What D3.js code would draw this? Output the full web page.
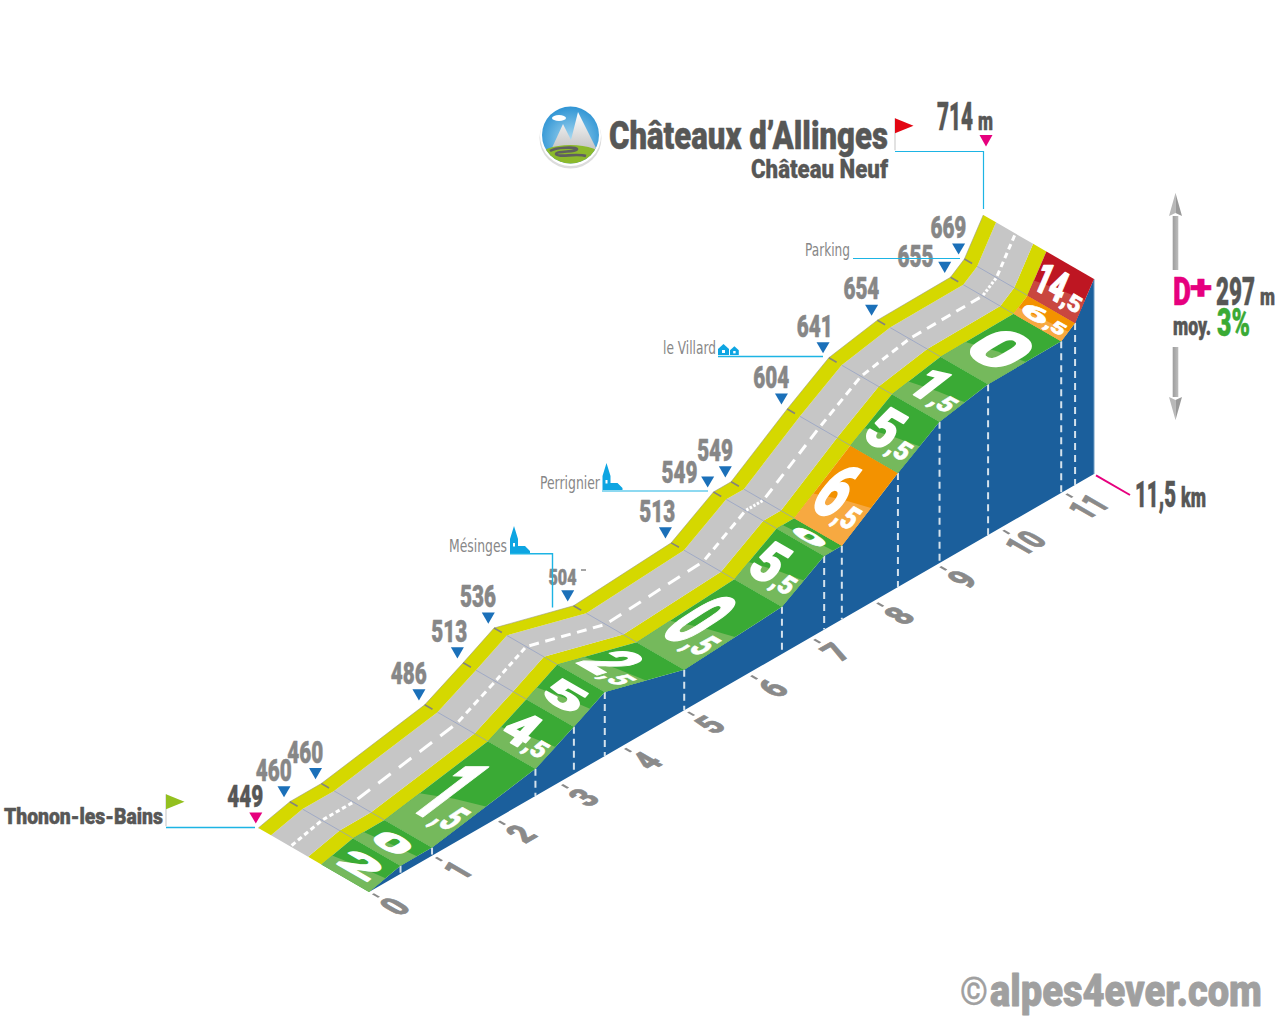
<!DOCTYPE html>
<html><head><meta charset="utf-8">
<style>html,body{margin:0;padding:0;background:#fff}svg{display:block}</style>
<script src="https://cdn.jsdelivr.net/npm/d3@7"></script>
</head><body><svg id="c" width="1280" height="1024"></svg>
<script>
// ---- data ----
const kmPoints   = [0,0.5,1,2.64,3.25,3.74,5,6.55,7.22,7.5,8.39,9.05,9.82,10.98,11.2,11.5];
const elevations = [449,460,460,486,513,536,504,513,549,549,604,641,654,655,669,714];
const slopes     = ["2","0","1,5","4,5","5","2,5","0,5","5,5","0","6,5","5,5","1,5","0","6,5","14,5"];
const kmTicks    = [0,1,2,3,4,5,6,7,8,9,10,11];
const totalKm    = 11.5;

// ---- layout ----
const HEAVY='Roboto,"Liberation Sans Narrow",sans-serif';
const NARROW='"Liberation Sans Narrow","DejaVu Sans Condensed",sans-serif';
const DARK='#575756', GREY='#878787', CYAN='#1db4e4', MAGENTA='#e6007e', BLUE='#1b5f9c', TRI='#1b70b9';
const svg=d3.select('#c');
const sx=d3.scaleLinear().domain([0,totalKm]).range([369,1094]);
const sy=d3.scaleLinear().domain([0,totalKm]).range([892,474]);
const sh=d3.scaleLinear().domain([449,714]).range([0,195]);
const DEPTH=[-110.7,-64];
const D_PANEL=.43,D_YEL=.55,D_ROAD=.885;
const pt=(i,d=0)=>[sx(kmPoints[i])+DEPTH[0]*d, sy(kmPoints[i])-sh(elevations[i])+DEPTH[1]*d];
const lerp=(a,b,t)=>[a[0]+(b[0]-a[0])*t,a[1]+(b[1]-a[1])*t];
const idx=d3.range(kmPoints.length);
const line=d3.line();
const slopeFill=v=>{const n=parseFloat(v.replace(',','.'));return n>10?['#be1622','#c9473f']:n>=6?['#f39200','#f7a941']:['#3aaa35','#75b95c'];};

// text stretched to an exact width with a real transform, so its box stays true
function txt(p,s,x,y,o={}){
  const t=p.append('text').text(s)
   .attr('font-family',o.family||HEAVY).attr('font-weight',o.weight||900)
   .attr('font-size',o.size||30).attr('fill',o.fill||DARK)
   .attr('text-anchor',o.anchor||'start');
  const st=o.stroke===undefined?.5:o.stroke;
  if(st) t.attr('stroke',o.fill||DARK).attr('stroke-width',st).attr('stroke-linejoin','round');
  const k=o.width?o.width/t.node().getComputedTextLength():1;
  t.attr('transform',`translate(${x},${y}) scale(${k},1)`);
  return t;
}
const poly=(p,pts,fill)=>p.append('path').attr('d',line(pts)+'Z').attr('fill',fill);
const strokeLine=(p,pts,c,w)=>p.append('path').attr('d',line(pts)).attr('fill','none').attr('stroke',c).attr('stroke-width',w);

// ---- wall ----
const wall=svg.append('g');
poly(wall,[...idx.map(i=>pt(i)),[sx(totalKm),sy(totalKm)],[sx(0),sy(0)]],BLUE);
idx.slice(1,-1).forEach(i=>{
  strokeLine(wall,[pt(i),[sx(kmPoints[i]),sy(kmPoints[i])]],'#d5e2ec',2).attr('stroke-dasharray','7 5');
});
strokeLine(wall,[pt(15),[sx(totalKm),sy(totalKm)]],'#6f9cc4',1);

// ---- road surface bands ----
const band=(d1,d2,fill)=>poly(svg,[...idx.map(i=>pt(i,d1)),...idx.slice().reverse().map(i=>pt(i,d2))],fill);
band(D_PANEL,D_YEL,'#d5d800');
band(D_YEL,D_ROAD,'#c6c6c6');
band(D_ROAD,1,'#d5d800');
strokeLine(svg,idx.map(i=>pt(i,1)),'#9c9c80',.6);

// ---- gradient panels ----
const panels=svg.append('g');
slopes.forEach((v,i)=>{
  const A=pt(i),B=pt(i+1),C=pt(i+1,D_PANEL),D=pt(i,D_PANEL),[dark,light]=slopeFill(v);
  poly(panels,[A,B,C,D],dark);
  const f=lerp(A,B,.52),b=lerp(D,C,.34),m=lerp(lerp(A,B,.47),lerp(D,C,.42),.5);
  poly(panels,[A,f,m,b,D],light);
});

// ---- cross lines and road dashes ----
idx.slice(1,-1).forEach(i=>{
  strokeLine(svg,[pt(i,D_PANEL),pt(i,D_ROAD)],'#8f9dc4',.7);
  strokeLine(svg,[pt(i,.93),pt(i,1)],'#85857a',1.6);
});
const DASHES=5, DASHD=.71;
slopes.forEach((v,i)=>{
  const a=pt(i,DASHD),b=pt(i+1,DASHD);
  d3.range(DASHES).forEach(k=>{
    strokeLine(svg,[lerp(a,b,(k+.2)/DASHES),lerp(a,b,(k+.8)/DASHES)],'#fff',3);
  });
});

// ---- slope numbers lying on the panels ----
const slopeG=svg.append('g');
const depthLen=Math.hypot(...DEPTH), ex=[-DEPTH[0]/depthLen,-DEPTH[1]/depthLen];
slopes.forEach((v,i)=>{
  const A=pt(i),B=pt(i+1),C=pt(i+1,D_PANEL),D=pt(i,D_PANEL);
  const len=Math.hypot(B[0]-A[0],B[1]-A[1]), u=[(B[0]-A[0])/len,(B[1]-A[1])/len];
  const M=lerp(lerp(A,D,.5),lerp(B,C,.5),.5);
  const g=slopeG.append('g').attr('transform',`matrix(${ex[0]},${ex[1]},${-u[0]},${-u[1]},${M[0]},${M[1]})`);
  const [big,dec]=v.split(',');
  const h=len*(dec?.63:.58), fs=h/.71, heavy=Math.min(2,len/35);
  if(dec){
    const bw=big.length>1?32:28, sw=21, x0=-(bw+sw)/2;
    txt(g,big,x0,h/2,{size:fs,width:bw,fill:'#fff',stroke:heavy});
    const sh2=len*.17+8;
    txt(g,','+dec,x0+bw,h/2,{size:sh2/.71,width:sw,fill:'#fff',stroke:.7});
  } else {
    const w=v==='0'?(len<45?36:46):40;
    txt(g,big,-w/2,h/2,{size:fs,width:w,fill:'#fff',stroke:heavy});
  }
});

// ---- km axis, drawn on the ground plane ----
const base0=[sx(0),sy(0)],base1=[sx(totalKm),sy(totalKm)];
const bl=Math.hypot(base1[0]-base0[0],base1[1]-base0[1]);
const bu=[(base1[0]-base0[0])/bl,(base1[1]-base0[1])/bl];
const kmScale=d3.scaleLinear().domain([0,totalKm]).range([0,bl]);
const axisG=svg.append('g').attr('transform',`matrix(${bu[0]},${bu[1]},${ex[0]},${ex[1]},${base0[0]},${base0[1]})`)
  .call(d3.axisBottom(kmScale).tickValues(kmTicks).tickFormat(d3.format('d')).tickSizeInner(11).tickSizeOuter(0).tickPadding(5));
axisG.select('.domain').remove();
axisG.selectAll('.tick line').attr('y1',4).attr('stroke','#8a8a8a').attr('stroke-width',2.4);
axisG.selectAll('.tick text').attr('font-family',HEAVY).attr('font-weight',900).attr('font-size',36)
  .attr('fill','#8a8a8a').attr('stroke','#8a8a8a').attr('stroke-width',.9)
  .attr('dy','0.72em')
  .each(function(d){const w=d>=10?29:16;d3.select(this).attr('transform',`scale(${w/this.getComputedTextLength()},1)`);});

// ---- elevation labels ----
const labelG=svg.append('g');
const tri=(cx,cy,c)=>poly(labelG,[[cx-6.5,cy-5.5],[cx+6.5,cy-5.5],[cx,cy+5.6]],c);
const shiftText={0:[-13,-21],4:[-14,-21],7:[-14,-21],11:[-14,-21],8:[-34,-9],13:[-35,-10],6:[-11,-21]};
elevations.forEach((e,i)=>{
  if(i===15) return;
  const b=pt(i,1),s=shiftText[i]||[-16,-21];
  tri(b[0]+(i===0?-2.5:-5.8),b[1]-10,i===0?MAGENTA:TRI);
  if(i===6) txt(labelG,e,b[0]+s[0]-14,b[1]+s[1],{size:22,width:28,fill:GREY});
  else txt(labelG,e,b[0]+s[0]-18,b[1]+s[1],{size:31,width:36,fill:i===0?DARK:GREY});
});
strokeLine(labelG,[[581,570],[586,570]],GREY,1.5);

// ---- leaders and place names ----
const lead=svg.append('g');
strokeLine(lead,[[166,827.5],[255,827.5]],CYAN,1.4);
strokeLine(lead,[[895,151.5],[983.5,151.5],[983.5,209]],CYAN,1.2);
strokeLine(lead,[[853,258.5],[960,258.5]],CYAN,1.2);
strokeLine(lead,[[718,356.5],[823,356.5]],CYAN,1.4);
strokeLine(lead,[[602,491],[708,491]],CYAN,1.2);
strokeLine(lead,[[510,553.7],[552.5,553.7],[552.5,607.5]],CYAN,1.4);
const flag=(x,y,c)=>{strokeLine(lead,[[x,y],[x,y+32]],'#cfcfcf',1.2);poly(lead,[[x,y],[x+18.5,y+7.5],[x,y+15]],c);};
flag(166,794.3,'#93c01f');flag(895,118.3,'#e30613');
txt(svg,'Thonon-les-Bains',4,824,{size:22.5,width:159});
const thin={family:NARROW,weight:'normal',fill:GREY,stroke:0};
txt(svg,'Parking',805,256,{...thin,size:18,width:45});
txt(svg,'le Villard',663,354,{...thin,size:18,width:53});
txt(svg,'Perrignier',540,489,{...thin,size:18,width:60});
txt(svg,'Mésinges',449,552,{...thin,size:18,width:58});
const church=(x,y)=>{const g=svg.append('g').attr('transform',`translate(${x},${y})`);
  g.append('path').attr('fill','#0ea5e2').attr('d','M0,0V-14L4,-27L8,-14V-7H15L20,-2V0Z');
  g.append('rect').attr('x',3).attr('y',-10).attr('width',2).attr('height',3.5).attr('fill','#fff');};
church(510,553);church(602.5,490);
const house=(x,y,s)=>{const g=svg.append('g').attr('transform',`translate(${x},${y}) scale(${s})`);
  g.append('path').attr('fill','#0ea5e2').attr('d','M0,0V-6L5.5,-11L11,-6V0Z');
  g.append('rect').attr('x',4).attr('y',-5).attr('width',3).attr('height',3).attr('fill','#fff');};
house(718,355,1);house(730,355,.8);

// ---- title ----
txt(svg,'Châteaux d’Allinges',609,149,{size:39,width:279,stroke:.5});
txt(svg,'Château Neuf',751,178,{size:25,width:137,stroke:.3});
txt(svg,'714',937,130,{size:38,width:36});
txt(svg,'m',978,130,{size:25,width:15});
poly(svg,[[979.5,135],[992.5,135],[986,146.5]],MAGENTA);

// ---- logo ----
const defs=svg.append('defs');
const g1=defs.append('radialGradient').attr('id','sky').attr('cx',.5).attr('cy',.55).attr('r',.6);
g1.append('stop').attr('offset',0).attr('stop-color','#a5d8f1');g1.append('stop').attr('offset',1).attr('stop-color','#1f8bd0');
const g2=defs.append('linearGradient').attr('id','snow').attr('x1',0).attr('y1',0).attr('x2',0).attr('y2',1);
g2.append('stop').attr('offset',0).attr('stop-color','#fff');g2.append('stop').attr('offset',1).attr('stop-color','#c4c4c4');
const sf=defs.append('linearGradient').attr('id','shaft').attr('x1',0).attr('x2',1).attr('y1',0).attr('y2',0);
sf.append('stop').attr('offset',0).attr('stop-color','#9d9d9d');sf.append('stop').attr('offset',1).attr('stop-color','#bdbdbd');
defs.append('clipPath').attr('id','lc').append('circle').attr('cx',570.5).attr('cy',135).attr('r',28.5);
const logo=svg.append('g');
logo.append('ellipse').attr('cx',570.5).attr('cy',138).attr('rx',31).attr('ry',30.5).attr('fill','#dcdcdc');
logo.append('circle').attr('cx',570.5).attr('cy',135.5).attr('r',30.5).attr('fill','#fff');
const li=logo.append('g').attr('clip-path','url(#lc)');
li.append('rect').attr('x',540).attr('y',105).attr('width',62).attr('height',62).attr('fill','url(#sky)');
li.append('ellipse').attr('cx',559).attr('cy',118).attr('rx',7).attr('ry',3).attr('fill','#fff');
li.append('path').attr('d','M551,150L563,124L571,140L578,112L597,150Z').attr('fill','url(#snow)');
li.append('ellipse').attr('cx',570.5).attr('cy',157).attr('rx',32).attr('ry',12).attr('fill','#8cb92b');
li.append('path').attr('d','M550,151C556,147 576,147 577,149C578,152 556,151 556,154C558,158 576,153 586,156')
  .attr('fill','none').attr('stroke','#5f5f5f').attr('stroke-width',2.6);

// ---- summary at right ----
const arrow=(tipY,wideY,shaftEnd)=>{
  const g=svg.append('g');
  g.append('rect').attr('x',1172.7).attr('y',Math.min(wideY,shaftEnd)).attr('width',5.6).attr('height',Math.abs(shaftEnd-wideY)).attr('fill','url(#shaft)');
  poly(g,[[1175.5,tipY],[1169,wideY],[1175.5,wideY+(wideY>tipY?-3:3)]],'#b8b8b8');
  poly(g,[[1175.5,tipY],[1182,wideY],[1175.5,wideY+(wideY>tipY?-3:3)]],'#999');
};
arrow(193,216,270);arrow(420,397,347);
txt(svg,'D',1173,305,{size:38,width:18,fill:MAGENTA});
txt(svg,'+',1190,299,{size:34,width:22,fill:MAGENTA});
txt(svg,'297',1216,305,{size:38,width:39});
txt(svg,'m',1260,305,{size:24,width:15});
txt(svg,'moy.',1173,335,{size:25,width:38});
txt(svg,'3%',1217,336,{size:38,width:33,fill:'#3aaa35'});
strokeLine(svg,[[1096,475.3],[1130,495]],MAGENTA,2);
txt(svg,'11,5',1135,507,{size:36,width:41});
txt(svg,'km',1181,507,{size:27,width:25});

// ---- credit ----
txt(svg,'©',960,1005,{size:38,width:28,fill:'#a0a0a0',stroke:.4,weight:700});
txt(svg,'alpes4ever.com',990,1006,{size:44,width:272,fill:'#a0a0a0',stroke:.8});
</script></body></html>
